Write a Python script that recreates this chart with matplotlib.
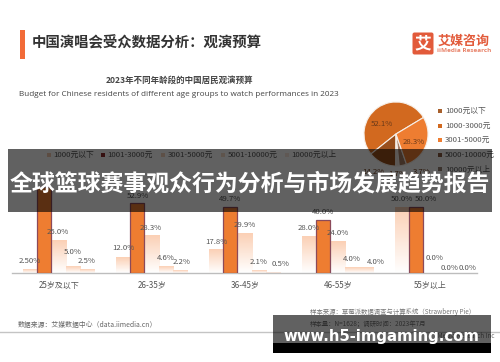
import numpy as np
import matplotlib
matplotlib.use("Agg")
import matplotlib.pyplot as plt
from matplotlib.patches import Rectangle, FancyBboxPatch
from matplotlib.colors import LinearSegmentedColormap

plt.rcParams['font.family'] = ['Noto Sans CJK SC', 'DejaVu Sans']

groups = ['25岁及以下', '26-35岁', '36-45岁', '46-55岁', '55岁以上']
below_1000 = [2.5, 12.0, 17.8, 28.0, 50.0]
r1001_3000 = [65.0, 52.9, 49.7, 40.0, 50.0]
r3001_5000 = [25.0, 28.3, 29.9, 24.0, 0.0]
r5001_10000 = [5.0, 4.6, 2.1, 4.0, 0.0]
above_10000 = [2.5, 2.2, 0.5, 4.0, 0.0]
labels_1 = ['2.50%', '12.0%', '17.8%', '28.0%', '50.0%']
labels_2 = ['', '52.9%', '49.7%', '40.0%', '50.0%']
labels_3 = ['25.0%', '28.3%', '29.9%', '24.0%', '0.0%']
labels_4 = ['5.0%', '4.6%', '2.1%', '4.0%', '0.0%']
labels_5 = ['2.5%', '2.2%', '0.5%', '4.0%', '0.0%']

pie_values = [52.1, 14.2, 1.7, 3.7, 28.3]
pie_labels = ['52.1%', '14.2%', '1.7%', '3.7%', '28.3%']
pie_colors = ['#D2691F', '#9A4F1C', '#EFE3DA', '#A87E66', '#EE7D31']
pie_legend = ['1000元以下', '1000-3000元', '3001-5000元', '5000-10000元', '10000元以上']
pie_legend_colors = ['#A8602C', '#D2691F', '#EE7D31', '#8A5A40', '#9A8478']
top_legend = ['1000元以下', '1001-3000元', '3001-5000元', '5001-10000元', '10000元以上']
top_legend_colors = ['#F3C9AE', '#8E2F2F', '#F6D3BB', '#F8DCC8', '#FBE8DC']

W, H = 500, 362
fig = plt.figure(figsize=(W / 100, H / 100), dpi=100, facecolor='white')

def box(l, t, r, b):
    return [l / W, 1 - b / H, (r - l) / W, (b - t) / H]

# bars
ax = fig.add_axes(box(12, 143, 477, 273))
ax.patch.set_alpha(0)
for s in ['top', 'left', 'right']:
    ax.spines[s].set_visible(False)
ax.spines['bottom'].set_color('#BDBDBD')
ax.spines['bottom'].set_linewidth(1.0)
ax.set_yticks([])
ax.set_xticks(range(5))
ax.set_xticklabels(groups, fontsize=5.8, color='#555555')
ax.tick_params(axis='x', length=0, pad=5.5)

w = 0.154
grad = LinearSegmentedColormap.from_list('g', ['#FFFFFF', '#FBD0B5'])
gimg = np.linspace(1, 0, 64).reshape(-1, 1)
series = [below_1000, r1001_3000, r3001_5000, r5001_10000, above_10000]
for j, vals in enumerate(series):
    for i, v in enumerate(vals):
        x = i + (j - 2) * w
        if j == 1:
            ax.bar(x, v, width=w * 0.98, color='#EE7D31', edgecolor='#8B4A5A', linewidth=0.9, zorder=3)
        elif v > 0:
            ax.imshow(gimg, extent=[x - w / 2, x + w / 2, 0, v], cmap=grad, vmin=0, vmax=1,
                      aspect='auto', zorder=2)
ax.set_xlim(-0.502, 4.498)
ax.set_ylim(0, 130 / 1.32)

# label placement: px right of bar centre, px above bar top, per group then series
label_sets = [labels_1, labels_2, labels_3, labels_4, labels_5]
label_off = [
    [(-0.7, 8.7), (0, 8), (-0.7, 8.3), (0, 14.7), (-0.5, 8.7)],
    [(0, 8.9), (0, 7.5), (-0.5, 8), (0, 8.6), (1.6, 8.4)],
    [(0, 7.8), (0, 8), (0, 8.5), (0, 8.5), (7, 8.6)],
    [(0, 8.3), (0, 8.2), (0, 8.6), (0, 8.7), (9, 6)],
    [(0, 8), (9.5, 8), (3.5, 14.7), (5, 5.3), (8.6, 4.7)],
]
for j, labs in enumerate(label_sets):
    for i, t in enumerate(labs):
        if not t:
            continue
        x = i + (j - 2) * w
        dx, dy = label_off[i][j]
        ax.annotate(t, (x, series[j][i]), xytext=(dx * 0.72, dy * 0.72), textcoords='offset points',
                    ha='center', va='center', fontsize=5.6, color='#555555', zorder=5)

# pie
pax = fig.add_axes(box(396 - 32, 134 - 32, 396 + 32, 134 + 32))
pax.pie(pie_values, colors=pie_colors, startangle=31, counterclock=True, radius=1,
        wedgeprops=dict(edgecolor='#F6EFE8', linewidth=0.8))
pax.set_xlim(-1, 1)
pax.set_ylim(-1, 1)
pax.patch.set_alpha(0)

# overlay
ov = fig.add_axes([0, 0, 1, 1])
ov.set_xlim(0, W)
ov.set_ylim(H, 0)
ov.axis('off')
ov.patch.set_alpha(0)

ov.add_patch(Rectangle((20, 30), 4.5, 29, color='#F26B38', lw=0))
ov.text(32, 43.5, '中国演唱会受众数据分析：观演预算', fontsize=10.4, fontweight='bold', color='#333333', va='center')
ov.text(179, 80, '2023年不同年龄段的中国居民观演预算', fontsize=6.1, fontweight='bold', color='#444444', ha='center', va='center')
ov.text(178.5, 95, 'Budget for Chinese residents of different age groups to watch performances in 2023',
        fontsize=5.85, fontweight='medium', family='Open Sans', color='#444444', ha='center', va='center')

# logo
ov.add_patch(FancyBboxPatch((413, 33), 20, 21, boxstyle='round,pad=0.5,rounding_size=2', color='#E25A3A', lw=0))
ov.text(423, 43.5, '艾', color='white', fontsize=12, fontweight='bold', ha='center', va='center')
ov.text(464, 41, '艾媒咨询', color='#E25A3A', fontsize=9.4, fontweight='bold', ha='center', va='center')
ov.text(464, 51, 'iiMedia Research', color='#E8836A', fontsize=4.6, family='Open Sans', fontweight='bold', ha='center', va='center')

# pie labels
pie_pos = [(382, 124.5), (373, 172), (397, 174), (422, 172), (414, 141.5)]
for (px, py), t in zip(pie_pos, pie_labels):
    ov.text(px, py, t, fontsize=5.6, color='#6B3A1A', ha='center', va='center')

# pie legend
for k, (t, c) in enumerate(zip(pie_legend, pie_legend_colors)):
    y = 111 + 14.6 * k
    ov.add_patch(Rectangle((438, y - 2), 4, 4, color=c, lw=0))
    ov.text(445, y, t, fontsize=5.6, color='#555555', va='center')

# top legend
for x, t, c in zip([47, 101, 161, 221, 285], top_legend, top_legend_colors):
    ov.add_patch(Rectangle((x, 153), 4, 4, color=c, lw=0))
    ov.text(x + 6.5, 155, t, fontsize=5.6, color='#555555', va='center')

# footer
ov.plot([0, 500], [332, 332], color='#C4C4C4', lw=1)
ov.text(18, 325, '数据来源：艾媒数据中心（data.iimedia.cn）', fontsize=4.95, color='#666666', va='center')
ov.text(310, 312.5, '样本来源：草莓派数据调查与计算系统（Strawberry Pie）', fontsize=4.6, color='#777777', va='center')
ov.text(310, 324, '样本量：N=1628；调研时间：2023年7月', fontsize=4.6, color='#777777', va='center')
ov.text(494, 336, 'iiMedia Research Inc', fontsize=4.6, color='#777777', va='center', ha='right')

# banners
ov.add_patch(Rectangle((8, 149), 484, 63, color='black', alpha=0.62, lw=0, zorder=10))
ov.text(250, 184, '全球篮球赛事观众行为分析与市场发展趋势报告', fontsize=16.5, fontweight='bold',
        color='white', ha='center', va='center', zorder=11)
ov.add_patch(Rectangle((273, 315), 218, 28, color='black', alpha=0.62, lw=0, zorder=10))
ov.add_patch(Rectangle((273, 343), 218, 10, color='black', lw=0, zorder=10))
ov.text(381.5, 336, 'www.h5-imgaming.com', fontsize=10.7, fontweight='bold', family='DejaVu Sans',
        color='white', ha='center', va='center', zorder=11)

fig.savefig('out.png', dpi=100, facecolor='white')
